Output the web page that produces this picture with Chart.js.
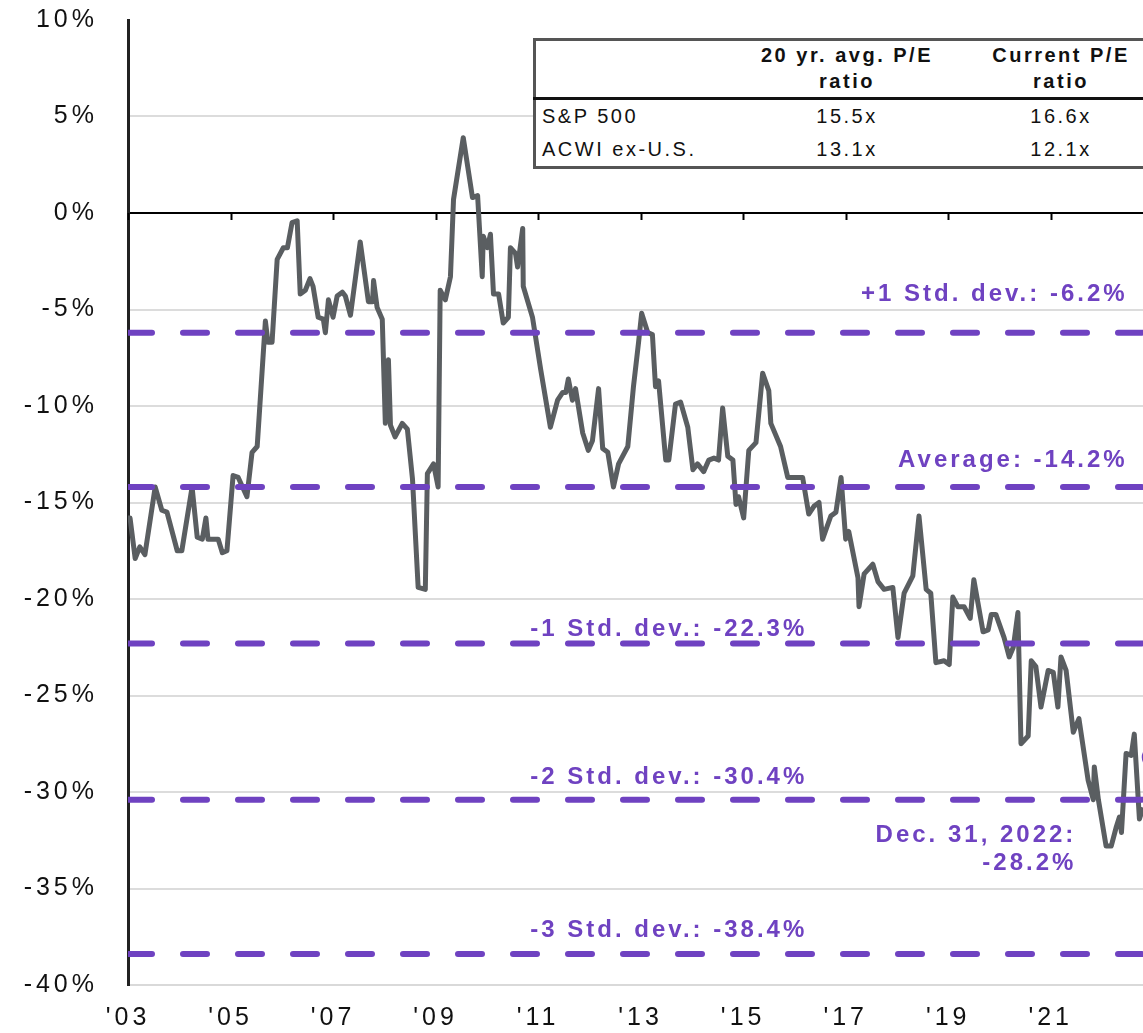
<!DOCTYPE html>
<html>
<head>
<meta charset="utf-8">
<script src="https://cdn.jsdelivr.net/npm/chart.js@4.4.1/dist/chart.umd.min.js"></script>
<style>
  html, body { margin: 0; padding: 0; background: #fff; overflow: hidden; width: 1143px; height: 1033px; }
  #wrap { position: relative; width: 1143px; height: 1033px; overflow: hidden; }
  #chart { position: absolute; left: 0; top: 0; }
  #pe {
    position: absolute; left: 533px; top: 38px; width: 640px;
    border-collapse: collapse; background: #fff; border: 3px solid #555;
    font-family: "Liberation Sans", Arial, sans-serif; font-size: 20px;
    letter-spacing: 2.5px; color: #111;
  }
  #pe th { font-weight: bold; height: 53px; line-height: 26px; vertical-align: bottom;
           padding: 0 0 3px; text-align: center; border-bottom: 3px solid #111; }
  #pe td { height: 33px; line-height: 33px; padding: 0; text-align: center; }
  #pe td:first-child { text-align: left; padding-left: 6px; width: 200px; }
  #pe th:nth-child(2), #pe td:nth-child(2) { width: 210px; }
</style>
</head>
<body>
<div id="wrap">
  <canvas id="chart" width="1143" height="1033"></canvas>
  <table id="pe">
    <thead>
      <tr><th></th><th>20 yr. avg. P/E<br>ratio</th><th>Current P/E<br>ratio</th></tr>
    </thead>
    <tbody id="peBody"></tbody>
  </table>
</div>
<script>
// relative forward P/E, ACWI ex-U.S. vs S&P 500 (% discount)
const years = [
  2003.00, 2003.04, 2003.14, 2003.23, 2003.33, 2003.53, 2003.66, 2003.76, 2003.96, 2004.05,
  2004.25, 2004.35, 2004.45, 2004.52, 2004.56, 2004.76, 2004.84, 2004.93, 2005.05, 2005.15,
  2005.32, 2005.42, 2005.52, 2005.68, 2005.73, 2005.81, 2005.91, 2006.03, 2006.11, 2006.20,
  2006.30, 2006.36, 2006.46, 2006.55, 2006.61, 2006.71, 2006.81, 2006.85, 2006.91, 2007.00,
  2007.08, 2007.18, 2007.24, 2007.34, 2007.53, 2007.69, 2007.77, 2007.79, 2007.86, 2007.96,
  2008.02, 2008.08, 2008.12, 2008.21, 2008.35, 2008.45, 2008.55, 2008.66, 2008.80, 2008.84,
  2008.96, 2009.05, 2009.09, 2009.19, 2009.29, 2009.35, 2009.54, 2009.72, 2009.82, 2009.91,
  2009.93, 2010.01, 2010.07, 2010.13, 2010.23, 2010.32, 2010.42, 2010.46, 2010.56, 2010.60,
  2010.70, 2010.71, 2010.89, 2011.05, 2011.24, 2011.38, 2011.48, 2011.54, 2011.59, 2011.67,
  2011.73, 2011.87, 2011.98, 2012.06, 2012.18, 2012.26, 2012.36, 2012.47, 2012.57, 2012.75,
  2012.86, 2012.96, 2013.02, 2013.14, 2013.23, 2013.29, 2013.35, 2013.49, 2013.55, 2013.68,
  2013.78, 2013.92, 2014.02, 2014.11, 2014.23, 2014.33, 2014.43, 2014.52, 2014.60, 2014.70,
  2014.80, 2014.86, 2014.91, 2015.01, 2015.11, 2015.25, 2015.38, 2015.50, 2015.54, 2015.73,
  2015.87, 2015.97, 2016.07, 2016.16, 2016.28, 2016.38, 2016.48, 2016.55, 2016.71, 2016.81,
  2016.91, 2017.00, 2017.06, 2017.24, 2017.26, 2017.36, 2017.53, 2017.63, 2017.75, 2017.92,
  2018.02, 2018.14, 2018.31, 2018.43, 2018.57, 2018.66, 2018.76, 2018.92, 2019.02, 2019.09,
  2019.19, 2019.31, 2019.43, 2019.50, 2019.68, 2019.78, 2019.84, 2019.93, 2020.09, 2020.19,
  2020.27, 2020.36, 2020.42, 2020.56, 2020.62, 2020.71, 2020.81, 2020.95, 2021.05, 2021.14,
  2021.20, 2021.30, 2021.44, 2021.55, 2021.73, 2021.83, 2021.85, 2021.93, 2022.08, 2022.18,
  2022.28, 2022.34, 2022.38, 2022.47, 2022.57, 2022.63, 2022.73, 2022.80, 2023.00
];
const relPE = [
  -15.8, -15.8, -17.9, -17.3, -17.7, -14.2, -15.4, -15.5, -17.5, -17.5,
  -14.2, -16.8, -16.9, -15.8, -16.9, -16.9, -17.6, -17.5, -13.6, -13.7,
  -14.7, -12.4, -12.1,  -5.6,  -6.7,  -6.7,  -2.4,  -1.8,  -1.8,  -0.5,
   -0.4,  -4.2,  -4.0,  -3.4,  -3.8,  -5.4,  -5.5,  -6.2,  -4.5,  -5.4,
   -4.3,  -4.1,  -4.3,  -5.3,  -1.5,  -4.6,  -4.6,  -3.5,  -4.9,  -5.5,
  -10.9,  -7.6, -11.0, -11.6, -10.9, -11.2, -13.8, -19.4, -19.5, -13.5,
  -13.0, -14.2,  -4.0,  -4.5,  -3.3,   0.7,   3.9,   0.8,   0.9,  -3.3,
   -1.2,  -1.8,  -1.1,  -4.2,  -4.2,  -5.7,  -5.4,  -1.8,  -2.1,  -2.8,
   -0.8,  -3.8,  -5.4,  -8.1, -11.1,  -9.7,  -9.3,  -9.3,  -8.6,  -9.7,
   -9.1, -11.4, -12.3, -11.8,  -9.1, -12.2, -12.4, -14.2, -13.0, -12.1,
   -9.0,  -6.7,  -5.2,  -6.2,  -6.3,  -9.0,  -8.7, -12.8, -12.8,  -9.9,
   -9.8, -11.1, -13.3, -13.0, -13.4, -12.8, -12.7, -12.8, -10.1, -12.6,
  -12.8, -15.1, -14.7, -15.8, -12.3, -11.9,  -8.3,  -9.2, -10.9, -12.1,
  -13.7, -13.7, -13.7, -13.7, -15.6, -15.2, -15.0, -16.9, -15.7, -15.5,
  -13.7, -16.9, -16.5, -18.9, -20.4, -18.7, -18.2, -19.1, -19.5, -19.4,
  -22.0, -19.7, -18.8, -15.7, -19.5, -19.7, -23.3, -23.2, -23.4, -19.9,
  -20.4, -20.4, -21.0, -19.0, -21.7, -21.6, -20.8, -20.8, -22.0, -23.0,
  -22.5, -20.7, -27.5, -27.1, -23.2, -23.5, -25.6, -23.7, -23.8, -25.6,
  -23.0, -23.7, -26.9, -26.2, -29.4, -30.4, -28.7, -30.4, -32.8, -32.8,
  -31.8, -31.3, -32.1, -28.0, -28.1, -27.0, -31.4, -30.8, -28.2
];

// average and standard deviation bands
const bandNames = ['+1 Std. dev.', 'Average', '-1 Std. dev.', '-2 Std. dev.', '-3 Std. dev.'];
const bandValues = [-6.2, -14.2, -22.3, -30.4, -38.4];

// x axis ticks
const tickYears = [2003, 2005, 2007, 2009, 2011, 2013, 2015, 2017, 2019, 2021];
const tickLabels = ["'03", "'05", "'07", "'09", "'11", "'13", "'15", "'17", "'19", "'21"];

// P/E table
const peRows = ['S&P 500', 'ACWI ex-U.S.'];
const peAvg = ['15.5x', '13.1x'];
const peCurrent = ['16.6x', '12.1x'];

const lastDate = 'Dec. 31, 2022';
const lastYear = years[years.length - 1];
const lastValue = relPE[relPE.length - 1];

const purple = '#6f42c1';
const font = '"Liberation Sans", Arial, sans-serif';

// label placement (layout only)
const bandLabelPos = [
  { x: 2022.5, dy: -32, align: 'right' },
  { x: 2022.5, dy: -20, align: 'right' },
  { x: 2013.55, dy: -7, align: 'center' },
  { x: 2013.55, dy: -16, align: 'center' },
  { x: 2013.55, dy: -17, align: 'center' }
];

document.getElementById('peBody').innerHTML = peRows.map((r, i) =>
  '<tr><td>' + r.replace('&', '&amp;') + '</td><td>' + peAvg[i] + '</td><td>' + peCurrent[i] + '</td></tr>'
).join('');

const bandSets = bandValues.map(v => ({
  data: [{ x: 2003, y: v }, { x: lastYear, y: v }],
  borderColor: purple,
  borderWidth: 6,
  borderDash: [24, 31],
  borderCapStyle: 'round',
  pointRadius: 0,
  order: 0
}));

const spacing = {
  id: 'spacing',
  beforeDraw(chart) { chart.ctx.letterSpacing = '4px'; }
};

const extras = {
  id: 'extras',
  afterDatasetsDraw(chart) {
    const c = chart.ctx, xs = chart.scales.x, ys = chart.scales.y;
    const y0 = ys.getPixelForValue(0);
    c.save();
    c.strokeStyle = '#000';
    c.lineWidth = 2;
    tickYears.forEach(t => {
      const px = Math.round(xs.getPixelForValue(t)) + 0.5;
      c.beginPath(); c.moveTo(px, y0); c.lineTo(px, y0 + 7); c.stroke();
    });
    c.letterSpacing = '3px';
    c.font = 'bold 24px ' + font;
    c.fillStyle = purple;
    c.textBaseline = 'alphabetic';
    bandValues.forEach((v, i) => {
      const p = bandLabelPos[i];
      c.textAlign = p.align;
      c.fillText(bandNames[i] + ': ' + v.toFixed(1) + '%', xs.getPixelForValue(p.x), ys.getPixelForValue(v) + p.dy);
    });
    c.textAlign = 'right';
    const ly = ys.getPixelForValue(lastValue);
    const lx = xs.getPixelForValue(2021.5);
    c.fillText(lastDate + ':', lx, ly + 85);
    c.fillText(lastValue.toFixed(1) + '%', lx, ly + 113);
    c.restore();
  }
};

new Chart(document.getElementById('chart'), {
  type: 'line',
  data: {
    datasets: [
      {
        data: years.map((x, i) => ({ x: x, y: relPE[i] })),
        borderColor: '#5a5e61',
        borderWidth: 5,
        pointRadius: 0,
        tension: 0,
        borderJoinStyle: 'round',
        order: 2
      },
      ...bandSets,
      {
        data: [{ x: lastYear, y: lastValue }],
        showLine: false,
        pointRadius: 10,
        pointBorderWidth: 3,
        pointBorderColor: purple,
        pointBackgroundColor: 'rgba(0,0,0,0)',
        clip: false,
        order: -1
      }
    ]
  },
  options: {
    responsive: false,
    animation: false,
    layout: { autoPadding: false, padding: { top: 20, right: 0, left: 0, bottom: 0 } },
    plugins: { legend: { display: false }, tooltip: { enabled: false } },
    scales: {
      x: {
        type: 'linear',
        min: 2003,
        max: 2022.8,
        afterBuildTicks: s => { s.ticks = tickYears.map(v => ({ value: v })); },
        afterFit: s => { s.height = 48; s.paddingLeft = 0; s.paddingRight = 0; },
        grid: { display: false, drawTicks: false },
        border: { color: '#d9d9d9', width: 2 },
        ticks: {
          autoSkip: false,
          maxRotation: 0,
          padding: 18,
          color: '#111',
          font: { family: font, size: 25 },
          callback: v => tickLabels[tickYears.indexOf(v)]
        }
      },
      y: {
        min: -40,
        max: 10,
        afterFit: s => { s.width = 128; s.paddingTop = 0; s.paddingBottom = 0; },
        grid: {
          drawTicks: false,
          color: c => c.tick.value === 0 ? '#000' : (c.tick.value === 10 ? 'rgba(0,0,0,0)' : '#dcdcdc'),
          lineWidth: 2
        },
        border: { color: '#222', width: 3 },
        ticks: {
          stepSize: 5,
          padding: 30,
          color: '#111',
          font: { family: font, size: 25 },
          callback: v => v + '%'
        }
      }
    }
  },
  plugins: [spacing, extras]
});
</script>
</body>
</html>
